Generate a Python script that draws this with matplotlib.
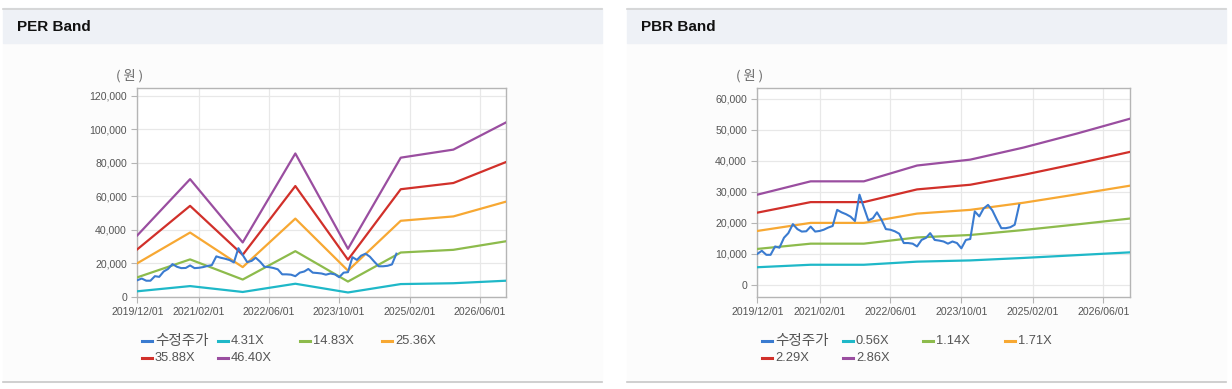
"""
PER / PBR band charts (수정주가 vs band lines)
"""

import pandas as pd
import matplotlib
matplotlib.use("Agg")
import matplotlib.pyplot as plt
import matplotlib.dates as mdates
from matplotlib.patches import Rectangle
from matplotlib.lines import Line2D
from matplotlib.ticker import FuncFormatter

plt.rcParams['font.family'] = ['Liberation Sans', 'Noto Sans CJK KR']

# ---- data ----------------------------------------------------------------
band_dates = ['2019-12-01', '2020-12-01', '2021-12-01', '2022-12-01',
              '2023-12-01', '2024-12-01', '2025-12-01', '2026-12-01']

# PER band lines (원)
per_431 = [3400, 6500, 3000, 7900, 2700, 7700, 8200, 9700]
per_1483 = [11700, 22400, 10400, 27300, 9200, 26500, 28100, 33200]
per_2536 = [20100, 38400, 17800, 46700, 15700, 45400, 48000, 56800]
per_3588 = [28400, 54300, 25100, 66100, 22200, 64200, 67900, 80400]
per_4640 = [36700, 70200, 32500, 85500, 28700, 83000, 87800, 104000]

# PBR band lines (원)
pbr_056 = [5700, 6500, 6500, 7500, 7900, 8700, 9600, 10500]
pbr_114 = [11600, 13300, 13300, 15300, 16100, 17700, 19500, 21400]
pbr_171 = [17400, 20000, 20000, 23000, 24200, 26500, 29200, 32000]
pbr_229 = [23300, 26700, 26700, 30800, 32300, 35500, 39100, 42900]
pbr_286 = [29100, 33400, 33400, 38500, 40400, 44300, 48800, 53600]

# 수정주가, monthly from 2019/12
price_start = '2019-12-01'
price = [10000, 11000, 9700, 9700, 12400, 12000, 15200, 16700, 19600, 18000,
         17200, 17300, 18800, 17200, 17400, 17800, 18500, 19000, 24200, 23400,
         22800, 22000, 20600, 29100, 25000, 20800, 21500, 23400, 21000, 18000,
         17800, 17300, 16500, 13500, 13500, 13300, 12400, 14500, 15200, 16700,
         14500, 14300, 14000, 13300, 14000, 13500, 11800, 14500, 14800, 23700,
         22100, 24600, 25800, 24000, 21000, 18300, 18300, 18600, 19400, 25800]

xtick_dates = ['2019-12-01', '2021-02-01', '2022-06-01', '2023-10-01',
               '2025-02-01', '2026-06-01']

per_labels = ['수정주가', '4.31X', '14.83X', '25.36X', '35.88X', '46.40X']
pbr_labels = ['수정주가', '0.56X', '1.14X', '1.71X', '2.29X', '2.86X']

colors = ['#3a7bd0', '#1fb8c8', '#8dbb4c', '#f7a833', '#d1302a', '#9a4ea0']

W, H = 1232, 389


def fx(px):
    return px / W


def fy(py):
    return 1 - py / H


def draw_panel(fig, x0, x1, title):
    """panel background, header band and borders"""
    fig.patches.append(Rectangle((fx(x0), fy(382)), fx(x1 - x0), (382 - 43) / H,
                                 transform=fig.transFigure, color='#fcfcfc', zorder=-5))
    fig.patches.append(Rectangle((fx(x0), fy(43)), fx(x1 - x0), 35 / H,
                                 transform=fig.transFigure, color='#eef1f6', zorder=-5))
    fig.add_artist(Line2D([fx(x0), fx(x1)], [fy(8.5), fy(8.5)], color='#d2d2d2', lw=1.2))
    fig.add_artist(Line2D([fx(x0), fx(x1)], [fy(381.5), fy(381.5)], color='#c8c8c8', lw=1.2))
    fig.text(fx(x0 + 14), fy(27), title, fontsize=11, fontweight='bold',
             color='#111111', va='center', ha='left')


def draw_chart(ax, bands, ylim, yticks):
    dates = pd.to_datetime(band_dates)
    pdates = pd.date_range(price_start, periods=len(price), freq='MS')
    ax.plot(pdates, price, color=colors[0], lw=1.5, zorder=4)
    for vals, c in zip(bands, colors[1:]):
        ax.plot(dates, vals, color=c, lw=1.6, zorder=3)
    ax.set_xlim(pd.Timestamp('2019-12-01'), pd.Timestamp('2026-12-01'))
    ax.set_ylim(*ylim)
    ax.set_yticks(yticks)
    ax.yaxis.set_major_formatter(FuncFormatter(lambda v, p: f'{int(v):,}'))
    ax.set_xticks(pd.to_datetime(xtick_dates))
    ax.xaxis.set_major_formatter(mdates.DateFormatter('%Y/%m/%d'))
    ax.set_facecolor('white')
    ax.grid(True, color='#e8e8e8', lw=0.9)
    ax.set_axisbelow(True)
    for s in ax.spines.values():
        s.set_color('#b5b5b5')
        s.set_linewidth(1.0)
    ax.tick_params(axis='both', colors='#b5b5b5', labelcolor='#555555',
                   labelsize=7.6, length=4, width=0.8)
    ax.tick_params(axis='x', pad=3)
    ax.set_zorder(5)


def draw_legend(fig, labels, cols, rows):
    for i, lab in enumerate(labels):
        cx = cols[i % 4]
        cy = rows[i // 4]
        fig.add_artist(Line2D([fx(cx), fx(cx + 10)], [fy(cy), fy(cy)],
                              color=colors[i], lw=2.2))
        size = 10.5 if i == 0 else 9.3
        fig.text(fx(cx + 13), fy(cy), lab, fontsize=size, color='#555555',
                 va='center', ha='left')


fig = plt.figure(figsize=(W / 100, H / 100), dpi=100)
fig.patch.set_facecolor('white')

draw_panel(fig, 3, 602, 'PER Band')
draw_panel(fig, 627, 1226, 'PBR Band')

ax1 = fig.add_axes([fx(137.3), fy(297), fx(506 - 137.3), (297 - 88) / H])
draw_chart(ax1, [per_431, per_1483, per_2536, per_3588, per_4640],
           (0, 124500), range(0, 120001, 20000))
fig.text(fx(130), fy(76), '( 원 )', fontsize=9.5, color='#666666', ha='center',
         va='center', family=['Noto Sans CJK KR'])
draw_legend(fig, per_labels, [142, 218, 300, 382], [341, 358])

ax2 = fig.add_axes([fx(757.3), fy(297), fx(1130 - 757.3), (297 - 88) / H])
draw_chart(ax2, [pbr_056, pbr_114, pbr_171, pbr_229, pbr_286],
           (-3900, 63500), range(0, 60001, 10000))
fig.text(fx(750), fy(76), '( 원 )', fontsize=9.5, color='#666666', ha='center',
         va='center', family=['Noto Sans CJK KR'])
draw_legend(fig, pbr_labels, [762, 843, 923, 1005], [341, 358])

plt.savefig('out.png', dpi=100)
